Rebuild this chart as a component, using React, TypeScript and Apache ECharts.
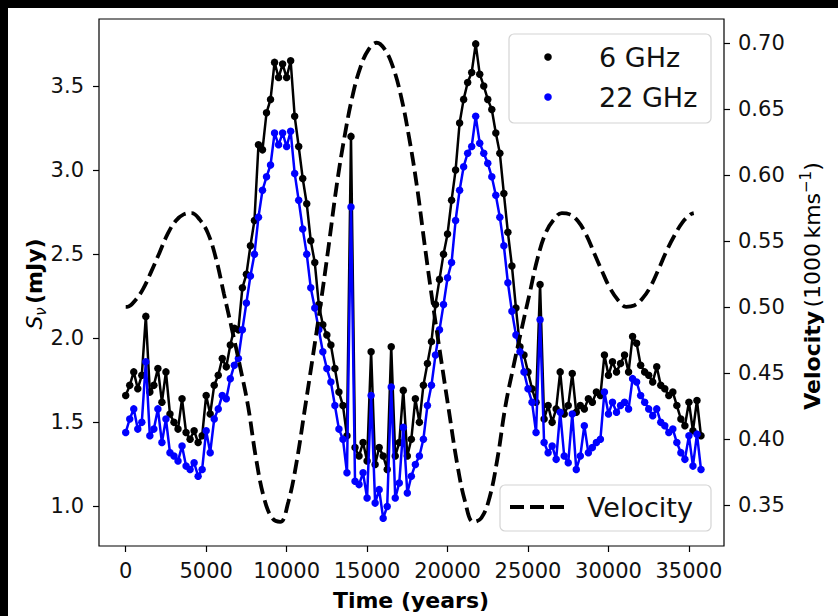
import React, { useEffect, useRef } from "react";
import * as echarts from "echarts";

// Time of each flux sample (years)
const years = [
  0, 250, 500, 750, 1000, 1250, 1500, 1750, 2000, 2250, 2500, 2750, 3000, 3250, 3500, 3750,
  4000, 4250, 4500, 4750, 5000, 5250, 5500, 5750, 6000, 6250, 6500, 6750, 7000, 7250, 7500, 7750,
  8000, 8250, 8500, 8750, 9000, 9250, 9500, 9750, 10000, 10250, 10500, 10750, 11000, 11250, 11500, 11750,
  12000, 12250, 12500, 12750, 13000, 13250, 13500, 13750, 14000, 14250, 14500, 14750, 15000, 15250, 15500, 15750,
  16000, 16250, 16500, 16750, 17000, 17250, 17500, 17750, 18000, 18250, 18500, 18750, 19000, 19250, 19500, 19750,
  20000, 20250, 20500, 20750, 21000, 21250, 21500, 21750, 22000, 22250, 22500, 22750, 23000, 23250, 23500, 23750,
  24000, 24250, 24500, 24750, 25000, 25250, 25500, 25750, 26000, 26250, 26500, 26750, 27000, 27250, 27500, 27750,
  28000, 28250, 28500, 28750, 29000, 29250, 29500, 29750, 30000, 30250, 30500, 30750, 31000, 31250, 31500, 31750,
  32000, 32250, 32500, 32750, 33000, 33250, 33500, 33750, 34000, 34250, 34500, 34750, 35000, 35250, 35500, 35750,
];

// 6 GHz flux density (mJy)
const flux6GHz = [
  1.66, 1.72, 1.8, 1.7, 1.78, 2.13, 1.68, 1.72, 1.82, 1.62, 1.8, 1.55, 1.5, 1.46, 1.64, 1.44,
  1.4, 1.45, 1.38, 1.42, 1.66, 1.55, 1.72, 1.78, 1.88, 1.83, 1.96, 2.06, 2.05, 2.3, 2.38, 2.55,
  2.7, 3.15, 3.12, 3.34, 3.42, 3.64, 3.55, 3.63, 3.55, 3.65, 3.32, 3.14, 2.95, 2.8, 2.58, 2.45,
  2.2, 2.08, 2.02, 1.96, 1.82, 1.68, 1.6, 1.42, 3.2, 1.35, 1.3, 1.38, 1.27, 1.92, 1.25, 1.35,
  1.3, 1.22, 1.95, 1.3, 1.38, 1.69, 1.3, 1.4, 1.64, 1.5, 1.72, 1.85, 1.98, 2.2, 2.35, 2.5,
  2.62, 2.82, 3.0, 3.28, 3.42, 3.52, 3.58, 3.75, 3.57, 3.5, 3.42, 3.36, 3.22, 3.1, 2.86, 2.63,
  2.43, 2.18, 1.95, 1.9, 1.8, 1.7, 1.62, 2.32, 1.52, 1.6, 1.5, 1.58, 1.8, 1.55, 1.6, 1.79,
  1.56, 1.6, 1.58, 1.64, 1.62, 1.68, 1.66, 1.9, 1.78, 1.86, 1.8, 1.85, 1.9, 1.8, 2.01, 1.97,
  1.84, 1.8, 1.78, 1.74, 1.83, 1.72, 1.7, 1.66, 1.68, 1.6, 1.52, 1.48, 1.62, 1.45, 1.63, 1.42,
];

// 22 GHz flux density (mJy)
const flux22GHz = [
  1.44, 1.52, 1.58, 1.46, 1.5, 1.86, 1.42, 1.46, 1.58, 1.38, 1.52, 1.32, 1.3, 1.27, 1.36, 1.24,
  1.22, 1.26, 1.18, 1.22, 1.45, 1.32, 1.52, 1.58, 1.66, 1.64, 1.76, 1.84, 1.88, 2.05, 2.21, 2.37,
  2.5, 2.72, 2.88, 2.96, 3.03, 3.22, 3.15, 3.22, 3.14, 3.23, 2.98, 2.82, 2.65, 2.5, 2.3, 2.18,
  2.05, 1.92, 1.82, 1.74, 1.6, 1.46, 1.4, 1.2, 2.78, 1.15, 1.13, 1.2, 1.05, 1.66, 1.02, 1.1,
  0.93, 1.0, 1.71, 1.05, 1.14, 1.47, 1.08, 1.18, 1.25, 1.3, 1.4, 1.6, 1.72, 1.9, 2.05, 2.2,
  2.36, 2.45, 2.7, 2.88, 3.02, 3.1, 3.14, 3.32, 3.16, 3.1, 3.04, 2.96, 2.85, 2.72, 2.55, 2.33,
  2.16, 2.02, 1.92, 1.8, 1.7, 1.62, 1.44, 2.11, 1.38, 1.32, 1.36, 1.28, 1.56, 1.3, 1.26, 1.55,
  1.22, 1.3, 1.48, 1.32, 1.35, 1.38, 1.4, 1.68, 1.55, 1.62, 1.56, 1.6, 1.62, 1.58, 1.76, 1.74,
  1.66, 1.62, 1.58, 1.54, 1.58, 1.5, 1.48, 1.44, 1.46, 1.38, 1.32, 1.28, 1.42, 1.24, 1.43, 1.22,
];

// Velocity curve (1000 km/s)
const velocityYears = [
  0, 100, 600, 1100, 1600, 2100, 2600, 3100, 3600, 4100, 4600, 5100, 5600, 6100, 6600, 7100,
  7600, 8100, 8600, 9100, 9600, 10100, 10600, 11100, 11600, 12100, 12600, 13100, 13600, 14100, 14600, 15100,
  15600, 16100, 16600, 17100, 17600, 18100, 18600, 19100, 19600, 20100, 20600, 21100, 21600, 22100, 22600, 23100,
  23600, 24100, 24600, 25100, 25600, 26100, 26600, 27100, 27600, 28100, 28600, 29100, 29600, 30100, 30600, 31100,
  31600, 32100, 32600, 33100, 33600, 34100, 34600, 35100, 35300,
];
const velocity = [
  0.5, 0.5, 0.505, 0.514, 0.527, 0.541, 0.555, 0.565, 0.57, 0.571, 0.566, 0.556, 0.537, 0.51, 0.483, 0.455,
  0.425, 0.385, 0.355, 0.34, 0.337, 0.352, 0.381, 0.42, 0.46, 0.501, 0.545, 0.591, 0.629, 0.66, 0.682, 0.695,
  0.7, 0.695, 0.682, 0.66, 0.629, 0.591, 0.545, 0.501, 0.46, 0.42, 0.381, 0.352, 0.337, 0.34, 0.355, 0.385,
  0.425, 0.455, 0.483, 0.51, 0.537, 0.556, 0.566, 0.571, 0.57, 0.565, 0.555, 0.541, 0.527, 0.514, 0.505, 0.5,
  0.501, 0.506, 0.515, 0.528, 0.542, 0.554, 0.564, 0.57, 0.571,
];

const xTicks = [0, 5000, 10000, 15000, 20000, 25000, 30000, 35000];
const fluxTicks = [1.0, 1.5, 2.0, 2.5, 3.0, 3.5];
const velocityTicks = [0.35, 0.4, 0.45, 0.5, 0.55, 0.6, 0.65, 0.7];

const FONT = "DejaVu Sans";

export default function App() {
  const ref = useRef<HTMLDivElement>(null);

  useEffect(() => {
    document.body.style.margin = "0";
    const chart = echarts.init(ref.current as HTMLDivElement, null, { renderer: "svg" });

    const tickLine = { color: "#000", width: 1.2 };
    const labelStyle = { fontFamily: FONT, fontSize: 21, color: "#111" };

    const option: any = {
      animation: false,
      backgroundColor: "#ffffff",
      grid: {
        left: 99,
        right: 114,
        top: 19,
        bottom: 70,
        show: true,
        borderColor: "#000",
        borderWidth: 1.2,
        backgroundColor: "transparent",
      },
      xAxis: {
        type: "value",
        min: -1660,
        max: 37180,
        axisLine: { show: false, onZero: false },
        splitLine: { show: false },
        axisTick: { show: true, length: 6, lineStyle: tickLine, customValues: xTicks },
        axisLabel: {
          ...labelStyle,
          margin: 14,
          customValues: xTicks,
          formatter: (v: number) => String(Math.round(v)),
        },
      },
      yAxis: [
        {
          type: "value",
          position: "left",
          min: 0.765,
          max: 3.898,
          axisLine: { show: false, onZero: false },
          splitLine: { show: false },
          axisTick: { show: true, length: 6, lineStyle: tickLine, customValues: fluxTicks },
          axisLabel: {
            ...labelStyle,
            margin: 15,
            customValues: fluxTicks,
            formatter: (v: number) => v.toFixed(1),
          },
        },
        {
          type: "value",
          position: "right",
          min: 0.3188,
          max: 0.718,
          axisLine: { show: false, onZero: false },
          splitLine: { show: false },
          axisTick: { show: true, length: 6, lineStyle: tickLine, customValues: velocityTicks },
          axisLabel: {
            ...labelStyle,
            margin: 14,
            customValues: velocityTicks,
            formatter: (v: number) => v.toFixed(2),
          },
        },
      ],
      series: [
        {
          name: "6 GHz",
          type: "line",
          yAxisIndex: 0,
          data: years.map((t, i) => [t, flux6GHz[i]]),
          symbol: "circle",
          symbolSize: 7.5,
          showSymbol: true,
          lineStyle: { color: "#000", width: 2.5 },
          itemStyle: { color: "#000" },
          z: 2,
        },
        {
          name: "22 GHz",
          type: "line",
          yAxisIndex: 0,
          data: years.map((t, i) => [t, flux22GHz[i]]),
          symbol: "circle",
          symbolSize: 7.5,
          showSymbol: true,
          lineStyle: { color: "#0000ff", width: 2.5 },
          itemStyle: { color: "#0000ff" },
          z: 3,
        },
        {
          name: "Velocity",
          type: "line",
          yAxisIndex: 1,
          data: velocityYears.map((t, i) => [t, velocity[i]]),
          showSymbol: false,
          smooth: 0.4,
          lineStyle: { color: "#000", width: 3.8, type: [14, 6] },
          itemStyle: { color: "#000" },
          z: 4,
        },
      ],
      graphic: [
        { type: "rect", z: 200, shape: { x: 0, y: 0, width: 838, height: 8 }, style: { fill: "#000" } },
        { type: "rect", z: 200, shape: { x: 0, y: 0, width: 8, height: 616 }, style: { fill: "#000" } },
        {
          type: "text",
          z: 100,
          x: 411,
          y: 600,
          style: {
            text: "Time (years)",
            fontFamily: FONT,
            fontSize: 22,
            fontWeight: "bold",
            fill: "#000",
            align: "center",
            verticalAlign: "middle",
          },
        },
        {
          type: "text",
          z: 100,
          x: 34,
          y: 284,
          rotation: Math.PI / 2,
          style: {
            text: "{i|S}{sub|ν} {b|(mJy)}",
            fill: "#000",
            align: "center",
            verticalAlign: "middle",
            rich: {
              i: { fontFamily: FONT, fontSize: 22, fontStyle: "italic", fill: "#000", lineHeight: 28 },
              sub: { fontFamily: FONT, fontSize: 15, fontStyle: "italic", fill: "#000", verticalAlign: "bottom", lineHeight: 28 },
              b: { fontFamily: FONT, fontSize: 22, fontWeight: "bold", fill: "#000", lineHeight: 28 },
            },
          },
        },
        {
          type: "text",
          z: 100,
          x: 812,
          y: 286,
          rotation: Math.PI / 2,
          style: {
            text: "{b|Velocity} {n|(1000\u2009kms}{sup|−1}{n|)}",
            fill: "#000",
            align: "center",
            verticalAlign: "middle",
            rich: {
              b: { fontFamily: FONT, fontSize: 22, fontWeight: "bold", fill: "#000", lineHeight: 28 },
              n: { fontFamily: FONT, fontSize: 22, fill: "#000", lineHeight: 28 },
              sup: { fontFamily: FONT, fontSize: 15, fill: "#000", verticalAlign: "top", lineHeight: 28 },
            },
          },
        },
        // Legend for flux series
        {
          type: "rect",
          z: 100,
          shape: { x: 509, y: 34, width: 202, height: 89, r: 5 },
          style: { fill: "rgba(255,255,255,0.8)", stroke: "#d4d4d4", lineWidth: 1.2 },
        },
        { type: "circle", z: 101, shape: { cx: 548, cy: 57, r: 3.8 }, style: { fill: "#000" } },
        { type: "circle", z: 101, shape: { cx: 548, cy: 97, r: 3.8 }, style: { fill: "#0000ff" } },
        {
          type: "text",
          z: 101,
          x: 599,
          y: 57,
          style: { text: "6 GHz", fontFamily: FONT, fontSize: 27, fill: "#111", align: "left", verticalAlign: "middle" },
        },
        {
          type: "text",
          z: 101,
          x: 599,
          y: 97,
          style: { text: "22 GHz", fontFamily: FONT, fontSize: 27, fill: "#111", align: "left", verticalAlign: "middle" },
        },
        // Legend for velocity
        {
          type: "rect",
          z: 100,
          shape: { x: 500, y: 485, width: 211, height: 46, r: 5 },
          style: { fill: "rgba(255,255,255,0.8)", stroke: "#d4d4d4", lineWidth: 1.2 },
        },
        {
          type: "line",
          z: 101,
          shape: { x1: 510, y1: 507, x2: 566, y2: 507 },
          style: { stroke: "#000", lineWidth: 3.8, lineDash: [14, 6] },
        },
        {
          type: "text",
          z: 101,
          x: 587,
          y: 507,
          style: { text: "Velocity", fontFamily: FONT, fontSize: 27, fill: "#111", align: "left", verticalAlign: "middle" },
        },
      ],
    };

    chart.setOption(option);
    return () => chart.dispose();
  }, []);

  return <div ref={ref} style={{ width: 838, height: 616 }} />;
}
